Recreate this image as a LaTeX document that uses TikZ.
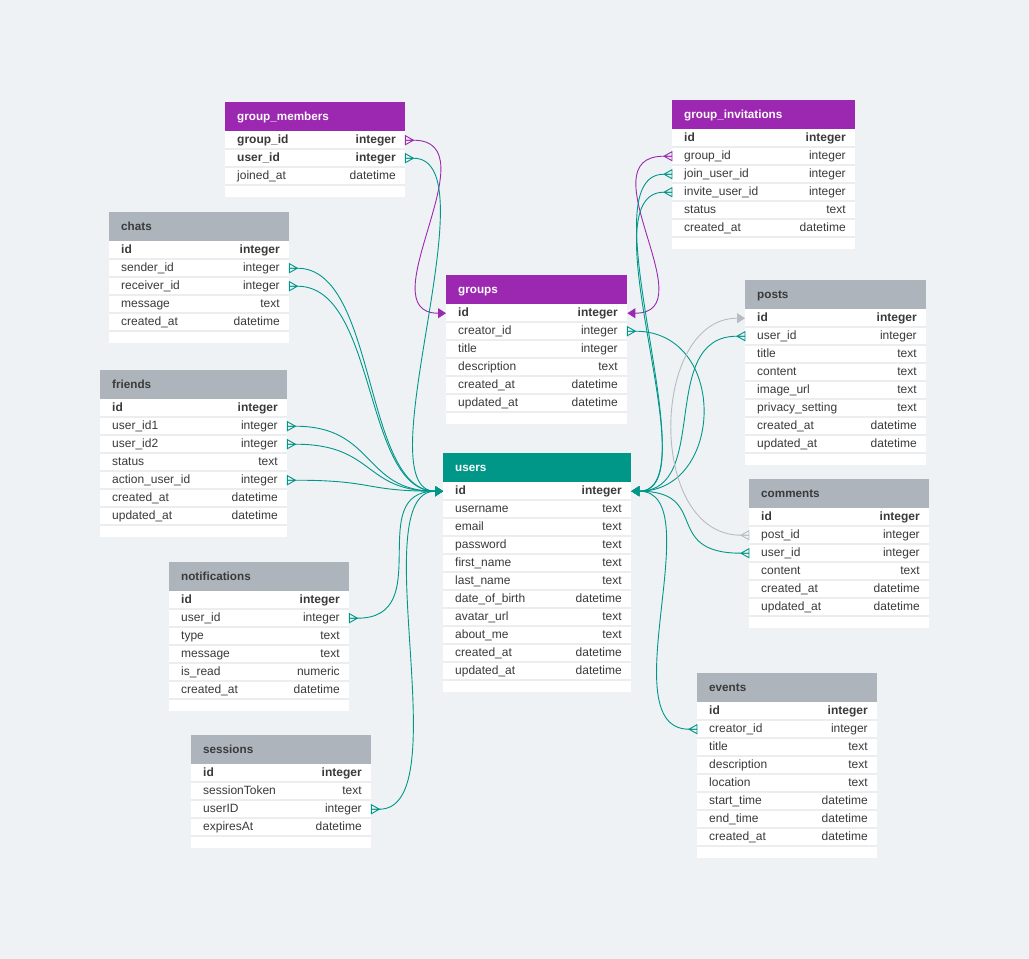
\documentclass[tikz,border=0pt]{standalone}
\usepackage{fontspec}
\setmainfont{Liberation Sans}
\usetikzlibrary{arrows.meta}
\definecolor{bg}{HTML}{EEF2F5}
\definecolor{sepc}{HTML}{EBEEF1}
\definecolor{pur}{HTML}{9C27B0}
\definecolor{tea}{HTML}{009688}
\definecolor{gry}{HTML}{ADB4BB}
\definecolor{txt}{HTML}{3A3A3A}
\definecolor{lgry}{HTML}{B6BCC1}
\tikzset{
  hdr/.style={rectangle, inner sep=0, minimum height=29, anchor=north west, draw=none},
  ttl/.style={anchor=west, inner sep=0, text height=9pt, text depth=2pt, font=\fontsize{11.7}{14}\selectfont\bfseries},
  rowbox/.style={rectangle, inner sep=0, minimum height=18, anchor=north west, draw=none},
  fld/.style={anchor=west, inner sep=0, text height=9pt, text depth=2pt, text=txt, font=\fontsize{12}{14}\selectfont},
  typ/.style={anchor=east, inner sep=0, text height=9pt, text depth=2pt, text=txt, font=\fontsize{12}{14}\selectfont},
  sepline/.style={draw=sepc, line width=2},
  conn/.style={line width=0.9},
  tip/.style={-{Triangle[length=8pt,width=10pt]}},
  cfr/.pic={\draw[#1, line width=0.9] (0pt,-4.5pt) -- (8pt,0pt) -- (0pt,4.5pt) -- cycle (0pt,0pt) -- (8pt,0pt);},
  cfl/.pic={\draw[#1, line width=0.9] (0pt,-4.5pt) -- (-8pt,0pt) -- (0pt,4.5pt) -- cycle (0pt,0pt) -- (-8pt,0pt);},
}
% #1 name #2 x #3 y #4 width #5 header fill #6 title colour #7 title #8 number of rows #9 rows
\newcommand\erdtbl[9]{%
  \fill[white] (#2,#3+29) rectangle ++(#4,18*#8+12);
  \node[hdr, fill=#5, minimum width=#4] (#1) at (#2,#3) {};
  \node[ttl, text=#6] (#1-title) at ([xshift=12]#1.west) {#7};
  \foreach [count=\i] \f/\t in {#9} {
    \node[rowbox, minimum width=#4] (#1-\i) at (#2,#3+29+18*\i-18) {};
    \node[fld] (#1-\i-f) at ([xshift=12]#1-\i.west) {\f};
    \node[typ] (#1-\i-t) at ([xshift=-9.5]#1-\i.east) {\t};
    \draw[sepline] (#1-\i.south west) -- (#1-\i.south east);
  }%
}
\begin{document}
\begin{tikzpicture}[x=1pt,y=-1pt]
\fill[bg] (0,0) rectangle (1029,959);
\useasboundingbox (0,0) rectangle (1029,959);

\erdtbl{gm}{225}{102}{180}{pur}{white}{group\_members}{3}{\textbf{group\_id}/\textbf{integer}, \textbf{user\_id}/\textbf{integer}, joined\_at/datetime}
\erdtbl{gi}{672}{100}{183}{pur}{white}{group\_invitations}{6}{\textbf{id}/\textbf{integer}, group\_id/integer, join\_user\_id/integer, invite\_user\_id/integer, status/text, created\_at/datetime}
\erdtbl{chats}{109}{212}{180}{gry}{txt}{chats}{5}{\textbf{id}/\textbf{integer}, sender\_id/integer, receiver\_id/integer, message/text, created\_at/datetime}
\erdtbl{groups}{446}{275}{181}{pur}{white}{groups}{6}{\textbf{id}/\textbf{integer}, creator\_id/integer, title/integer, description/text, created\_at/datetime, updated\_at/datetime}
\erdtbl{posts}{745}{280}{181}{gry}{txt}{posts}{8}{\textbf{id}/\textbf{integer}, user\_id/integer, title/text, content/text, image\_url/text, privacy\_setting/text, created\_at/datetime, updated\_at/datetime}
\erdtbl{friends}{100}{370}{187}{gry}{txt}{friends}{7}{\textbf{id}/\textbf{integer}, user\_id1/integer, user\_id2/integer, status/text, action\_user\_id/integer, created\_at/datetime, updated\_at/datetime}
\erdtbl{users}{443}{453}{188}{tea}{white}{users}{11}{\textbf{id}/\textbf{integer}, username/text, email/text, password/text, first\_name/text, last\_name/text, date\_of\_birth/datetime, avatar\_url/text, about\_me/text, created\_at/datetime, updated\_at/datetime}
\erdtbl{comments}{749}{479}{180}{gry}{txt}{comments}{6}{\textbf{id}/\textbf{integer}, post\_id/integer, user\_id/integer, content/text, created\_at/datetime, updated\_at/datetime}
\erdtbl{notif}{169}{562}{180}{gry}{txt}{notifications}{6}{\textbf{id}/\textbf{integer}, user\_id/integer, type/text, message/text, is\_read/numeric, created\_at/datetime}
\erdtbl{events}{697}{673}{180}{gry}{txt}{events}{8}{\textbf{id}/\textbf{integer}, creator\_id/integer, title/text, description/text, location/text, start\_time/datetime, end\_time/datetime, created\_at/datetime}
\erdtbl{sess}{191}{735}{180}{gry}{txt}{sessions}{4}{\textbf{id}/\textbf{integer}, sessionToken/text, userID/integer, expiresAt/datetime}

% purple connectors
\draw[conn, pur, tip] (gm-1.east) -- ++(8,0) .. controls +(80,0) and +(-80,0) .. (groups-1.west);
\pic at (gm-1.east) {cfr=pur};
\draw[conn, pur, tip] (gi-2.west) -- ++(-8,0) .. controls +(-80,0) and +(80,0) .. (groups-1.east);
\pic at (gi-2.west) {cfl=pur};

% teal connectors, left side of users
\foreach \s in {gm-2, chats-2, chats-3, friends-2, friends-3, friends-5, notif-2, sess-3} {
  \draw[conn, tea, tip] (\s.east) -- ++(8,0) .. controls +(80,0) and +(-80,0) .. (users-1.west);
  \pic at (\s.east) {cfr=tea};
}
% teal connectors, right side of users
\foreach \s in {gi-3, gi-4, posts-2, comments-3, events-2} {
  \draw[conn, tea, tip] (\s.west) -- ++(-8,0) .. controls +(-80,0) and +(80,0) .. (users-1.east);
  \pic at (\s.west) {cfl=tea};
}
\draw[conn, tea, tip] (groups-2.east) -- ++(8,0) .. controls +(93,0) and +(93,0) .. (users-1.east);
\pic at (groups-2.east) {cfr=tea};

% grey connector
\draw[conn, lgry, tip] (comments-2.west) -- ++(-8,0) .. controls +(-95,0) and +(-95,0) .. (posts-1.west);
\pic at (comments-2.west) {cfl=lgry};
\end{tikzpicture}
\end{document}
